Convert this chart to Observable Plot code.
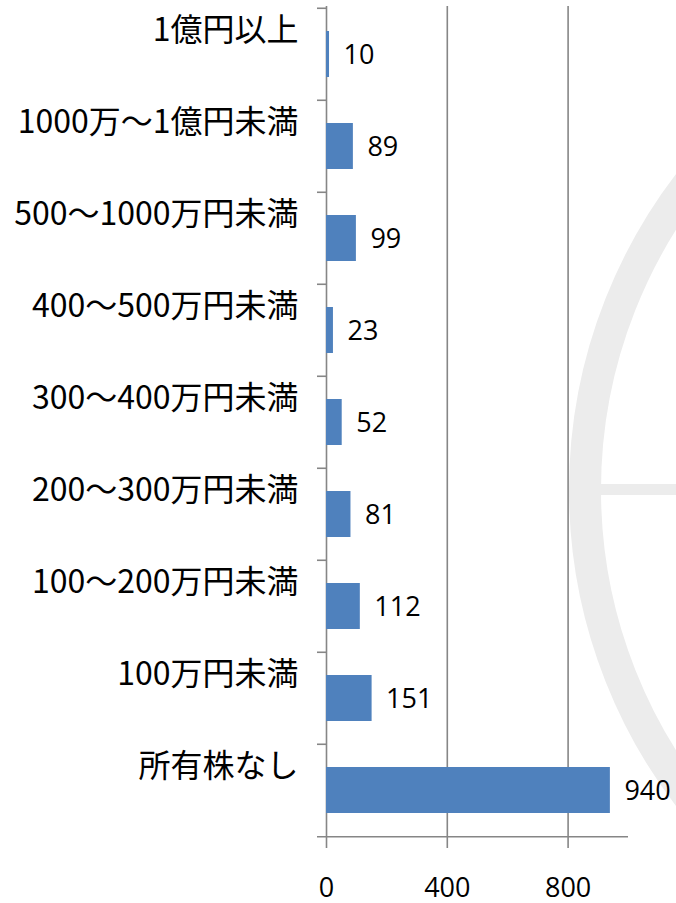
<!DOCTYPE html>
<html>
<head>
<meta charset="utf-8">
<script src="https://cdn.jsdelivr.net/npm/d3@7"></script>
<script src="https://cdn.jsdelivr.net/npm/@observablehq/plot@0.6"></script>
<style>
  html, body { margin: 0; padding: 0; background: #fff; overflow: hidden; }
  #chart svg { display: block; }
</style>
</head>
<body>
<div id="chart"></div>
<script>
const categories = ["1億円以上", "1000万～1億円未満", "500～1000万円未満", "400～500万円未満", "300～400万円未満", "200～300万円未満", "100～200万円未満", "100万円未満", "所有株なし"];
const values = [10, 89, 99, 23, 52, 81, 112, 151, 940];
const xTicks = [0, 400, 800];
const xMax = 1000;

const rows = categories.map((c, i) => ({category: c, value: values[i]}));

const W = 676, H = 903;
const mTop = 6, mBottom = 65, mLeft = 326, mRight = 48;
const step = (H - mTop - mBottom) / categories.length;
const gray = "#868686";
const numFont = "'Open Sans', 'Liberation Sans', sans-serif";
const cjkFont = "'Noto Sans CJK JP', 'Noto Sans', sans-serif";

const plot = Plot.plot({
  width: W,
  height: H,
  marginTop: mTop,
  marginBottom: mBottom,
  marginLeft: mLeft,
  marginRight: mRight,
  style: {fontFamily: numFont, color: "#000", background: "transparent"},
  x: {domain: [0, xMax], label: null},
  y: {domain: categories, paddingInner: 0.5, paddingOuter: 0.25, label: null},
  marks: [
    Plot.ruleX(xTicks, {stroke: gray, strokeWidth: 1.6}),
    Plot.ruleY(categories, {y: d => d, x1: 0, x2: 0, insetLeft: -9, dy: -step / 2, stroke: gray, strokeWidth: 1.6}),
    Plot.ruleY([categories[categories.length - 1]], {y: d => d, x1: 0, x2: xMax, insetLeft: -9, dy: step / 2, stroke: gray, strokeWidth: 1.6}),
    Plot.barX(rows, {x: "value", y: "category", fill: "#4f81bd"}),
    Plot.text(rows, {x: "value", y: "category", text: d => String(d.value), textAnchor: "start", dx: 14, dy: 1, fontSize: 27, fill: "#000", fontFamily: numFont}),
    Plot.axisX({ticks: xTicks, tickSize: 10, tickPadding: 29, fontSize: 27, stroke: gray, strokeWidth: 1.6, fill: "#000", tickFormat: d => String(d), fontFamily: numFont, label: null}),
    Plot.axisY({tickSize: 0, tickPadding: 28, dy: -24, fontSize: 32, fill: "#000", fontFamily: cjkFont, label: null})
  ]
});

// light watermark decoration behind the chart
const svg = d3.select(plot);
const wm = svg.insert("g", ":first-child").attr("fill", "none");
wm.append("circle").attr("cx", 1089).attr("cy", 490).attr("r", 504)
  .attr("stroke", "#ececec").attr("stroke-width", 32);
wm.append("rect").attr("x", 601).attr("y", 484).attr("width", 80).attr("height", 11)
  .attr("fill", "#ececec");

document.getElementById("chart").appendChild(plot);
</script>
</body>
</html>
